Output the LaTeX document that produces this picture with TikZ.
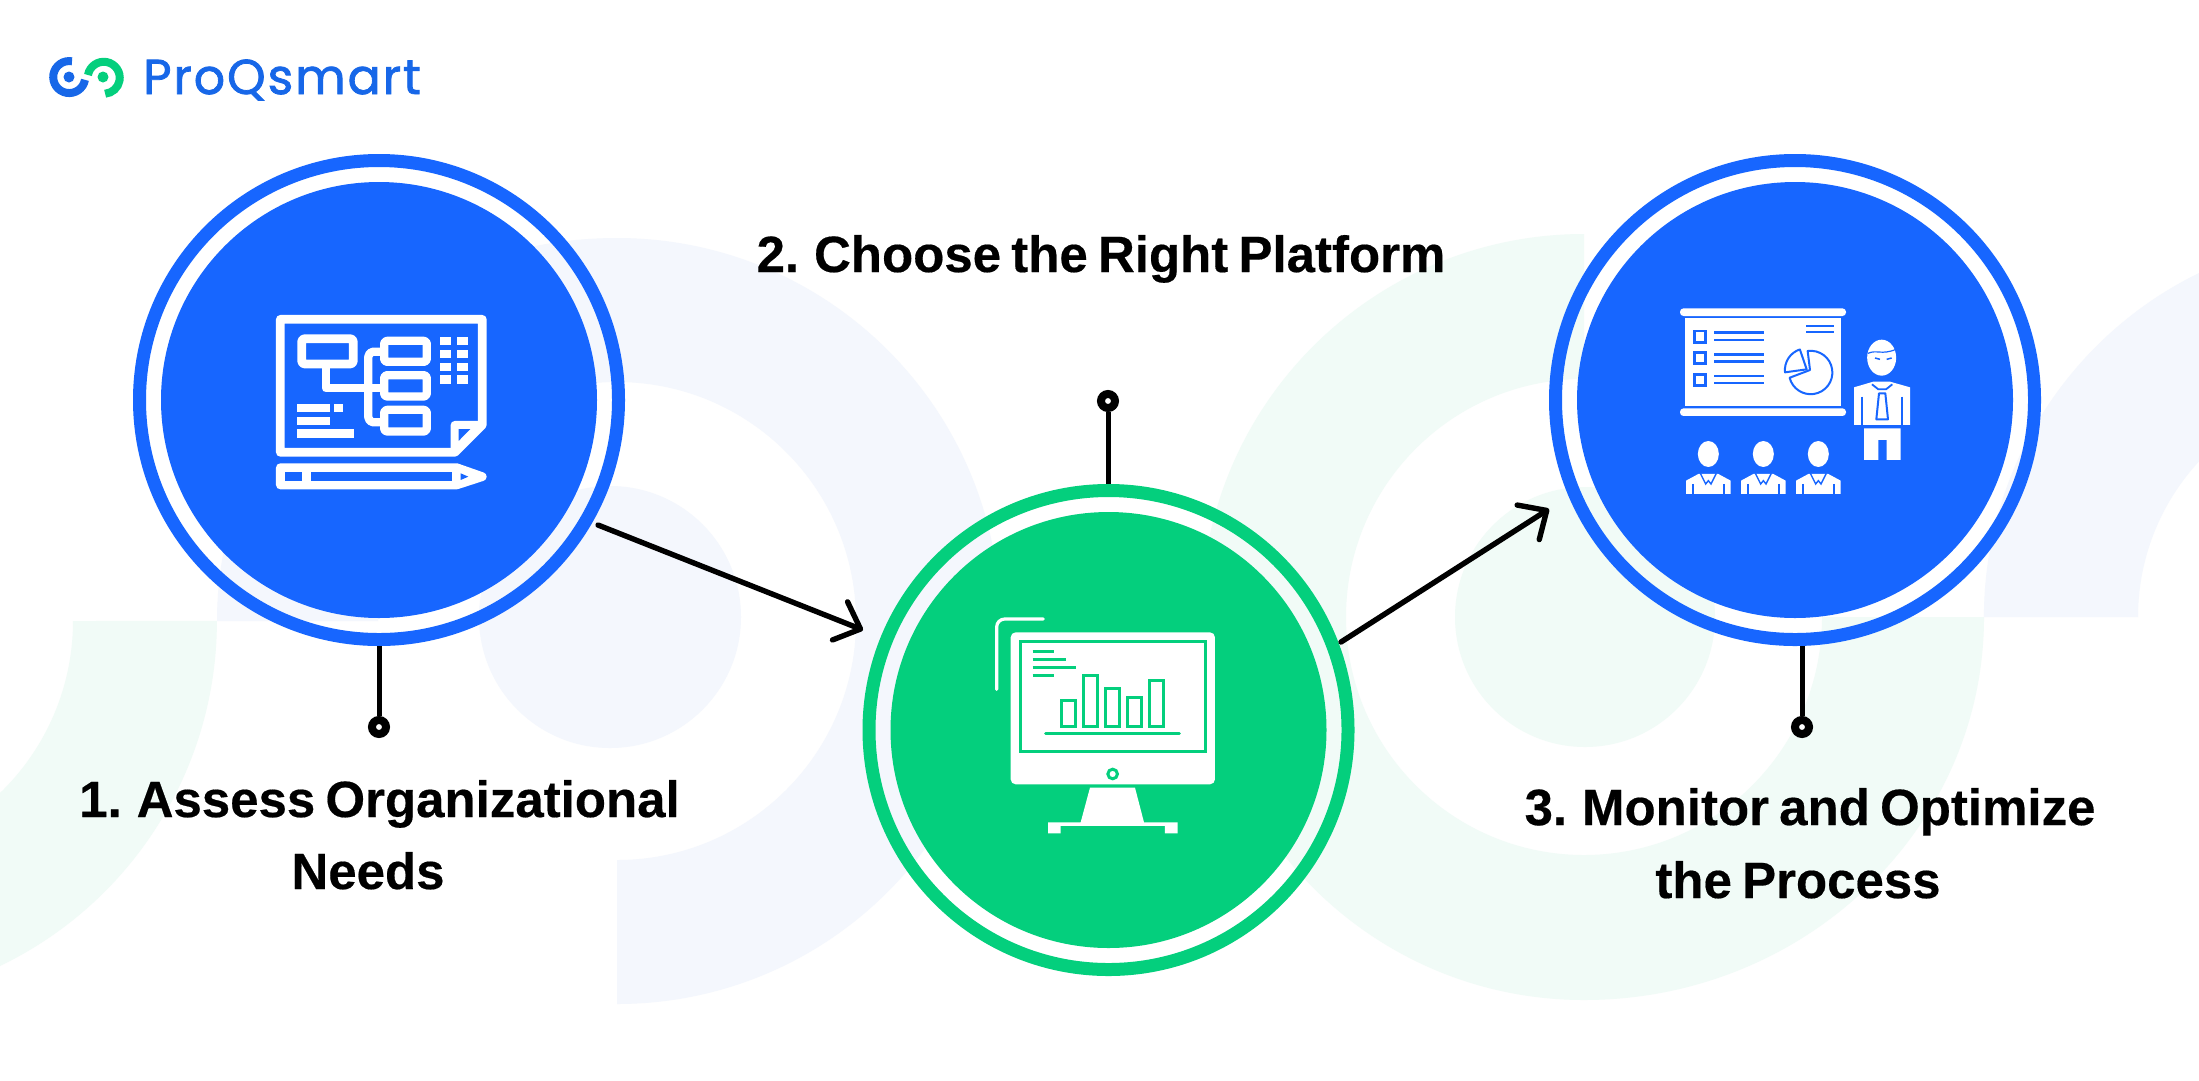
\documentclass[tikz,border=0pt]{standalone}
\usepackage{fontspec}
\usetikzlibrary{arrows.meta,shapes.geometric}
\setmainfont{Liberation Sans}[BoldFeatures={FakeBold=0.35,WordSpace=0.72}]
\newfontfamily\logofont[FakeBold=1.6,LetterSpace=4]{Poppins}
\definecolor{pqblue}{HTML}{1766FF}
\definecolor{pqgreen}{HTML}{04CF7D}
\definecolor{bgblue}{HTML}{F4F7FD}
\definecolor{bggreen}{HTML}{F1FBF7}
\definecolor{logoblue}{HTML}{1767E8}
\tikzset{
  ringnode/.style={circle,inner sep=0pt,minimum size=479pt,line width=13pt,fill=none},
  disknode/.style={circle,inner sep=0pt,minimum size=436pt,draw=none},
  dotnode/.style={circle,inner sep=0pt,minimum size=14pt,line width=8pt,draw=black,fill=white},
  stemline/.style={line width=5pt,black},
  arrowline/.style={line width=5.4pt,black,line cap=round,-{Straight Barb[length=22pt,width=41pt,line cap=round,round]}},
  steplabel/.style={anchor=base,inner sep=0pt,font=\fontsize{51}{60}\selectfont\bfseries,text=black},
  wfill/.style={fill=white,draw=none},
  wline/.style={draw=white,line join=round},
}
\begin{document}
\begin{tikzpicture}[x=1pt,y=-1pt]
\path[use as bounding box,fill=white] (0,0) rectangle (2199,1080);
% background arcs
\fill[bgblue] (617,1004) arc[start angle=-90,end angle=90,radius=383pt]
  arc[start angle=90,end angle=180,x radius=400pt,y radius=383pt]
  -- (378,621) arc[start angle=180,end angle=-90,radius=239pt] -- cycle;
\fill[bgblue] (610,617) circle[radius=131pt];
\fill[bggreen] (0,966) arc[start angle=-64.3,end angle=0,radius=383pt] -- (73,621)
  arc[start angle=0,end angle=-46,radius=239pt] -- cycle;
\fill[bggreen] (1584,234) arc[start angle=90,end angle=270,radius=383pt]
  arc[start angle=270,end angle=360,x radius=400pt,y radius=383pt]
  -- (1822,617) arc[start angle=360,end angle=90,radius=238pt] -- cycle;
\fill[bggreen] (1585,617) circle[radius=130pt];
\fill[bgblue] (2199,273) arc[start angle=116,end angle=180,radius=383pt] -- (2138,617)
  arc[start angle=180,end angle=137.2,radius=229pt] -- cycle;
% logo
\draw[logoblue,line width=8pt] (72,61.3) arc[start angle=80,end angle=350,radius=16pt];
\fill[logoblue] (69,77) circle[radius=5.5pt];
\draw[pqgreen,line width=8pt] (88,75) arc[start angle=170,end angle=-85,radius=16pt];
\fill[pqgreen] (103,77) circle[radius=5.5pt];
\node[anchor=base west,inner sep=0pt,text=logoblue,font=\fontsize{49}{52}\selectfont\logofont] (logo) at (143,94) {ProQsmart};
% circles
\node[ringnode,draw=pqblue] (c1) at (379,400) {};
\node[disknode,fill=pqblue] (k1) at (379,400) {};
\node[ringnode,draw=pqgreen] (c2) at (1108.5,730) {};
\node[disknode,fill=pqgreen] (k2) at (1108.5,730) {};
\node[ringnode,draw=pqblue] (c3) at (1795,400) {};
\node[disknode,fill=pqblue] (k3) at (1795,400) {};
% dots and stems
\node[dotnode] (d1) at (379,727) {};
\node[dotnode] (d2) at (1108,401) {};
\node[dotnode] (d3) at (1802,727) {};
\draw[stemline] (c1.south) -- (d1.north);
\draw[stemline] (d2.south) -- (d2.south |- c2.north);
\draw[stemline] (d3.north) -- (d3.north |- c3.south);
% arrows
\coordinate (a1s) at (598,525);
\coordinate (a1e) at (863,630);
\coordinate (a2s) at (1341,642);
\coordinate (a2e) at (1549,509);
\draw[arrowline] (a1s) -- (a1e);
\draw[arrowline] (a2s) -- (a2e);
% labels
\node[steplabel] (l1a) at (379.5,817) {1. Assess Organizational};
\node[steplabel] (l1b) at (368,889) {Needs};
\node[steplabel] (l2) at (1101,272) {2. Choose the Right Platform};
\node[steplabel] (l3a) at (1810,825) {3. Monitor and Optimize};
\node[steplabel] (l3b) at (1798,898) {the Process};
% icon 1
\begin{scope}[shift={(250,290)},x=0.3333pt,y=-0.3333pt]
\draw[wline,line width=8.7pt] (91,88)--(697,88)--(697,405)--(615,487)--(91,487)--cycle;
\draw[wline,line width=8pt] (614,405)--(690,405)--(614,483)--cycle;
\draw[wline,line width=8.7pt,rounded corners=3pt] (155,146) rectangle (310,222);
\draw[wline,line width=8.3pt] (228,235)--(228,295)--(400,295);
\draw[wline,line width=8.3pt,rounded corners=5pt] (400,185)--(355,185)--(355,397)--(400,397);
\foreach \ya/\yb in {140/228,243/332,347/437}{
  \draw[wline,line width=8.3pt,rounded corners=3pt] (402.5,\ya+12.5) rectangle (530.5,\yb-12.5);
}
\foreach \ya in {140,180,218,256}{
  \fill[white] (570,\ya) rectangle (602,\ya+25);
  \fill[white] (620,\ya) rectangle (653,\ya+25);
}
\fill[white] (142,342) rectangle (240,365);
\fill[white] (252,342) rectangle (279,365);
\fill[white] (142,380) rectangle (240,404);
\fill[white] (142,418) rectangle (311,443);
\draw[wline,fill=white,line width=8.7pt] (91,533)--(620,533)--(697,560)--(620,585)--(91,585)--cycle;
\fill[pqblue] (104,546) rectangle (157,572);
\fill[pqblue] (182,546) rectangle (607,572);
\fill[pqblue] (632,550)--(655,560)--(632,570)--cycle;
\end{scope}
% icon 2
\begin{scope}[shift={(960,600)},x=0.3333pt,y=-0.3333pt]
\draw[white,line width=3.2pt,line cap=round,rounded corners=8pt] (110,268)--(110,57)--(250,57);
\fill[white,rounded corners=5pt] (152,97) rectangle (765,553);
\begin{scope}[pqgreen,line width=3pt]
\draw (180,125) rectangle (737,453);
\draw (218,155)--(282,155) (218,179)--(317,179) (218,203)--(347,203) (218,227)--(282,227);
\draw (303,302) rectangle (347,378);
\draw (369,225) rectangle (413,378);
\draw (436,265) rectangle (480,378);
\draw (502,291) rectangle (546,378);
\draw (568,242) rectangle (612,378);
\draw[line cap=round] (257,401)--(658,401);
\draw (458,522) circle[radius=4.8pt];
\end{scope}
\fill[white] (390,563)--(525,563)--(552,667)--(653,667)--(653,700)--(615,700)--(615,678)--(302,678)--(302,700)--(264,700)--(264,667)--(362,667)--cycle;
\end{scope}
% icon 3
\begin{scope}[shift={(1660,290)},x=0.3333pt,y=-0.3333pt]
\fill[white,rounded corners=3.5pt] (60,55) rectangle (558,78);
\fill[white,rounded corners=3.5pt] (60,355) rectangle (558,378);
\fill[white] (76,85) rectangle (543,347);
\begin{scope}[pqblue,line width=2.9pt]
\foreach \yy in {123,187,253}{\draw (103,\yy) rectangle (137,\yy+34);}
\draw (162,128)--(313,128) (162,150)--(313,150) (162,194)--(313,194) (162,214)--(313,214) (162,258)--(313,258) (162,279)--(313,279);
\draw (438,108)--(521,108) (438,126)--(521,126);
\end{scope}
\draw[pqblue,line width=2pt,line join=round] (443,183) arc[start angle=98,end angle=-166,radius=21.7pt] -- (450,240) -- cycle;
\draw[pqblue,line width=2pt,line join=round] (375,247) arc[start angle=186,end angle=108,radius=21.7pt] -- (440,238) -- cycle;
% presenter
\fill[white] (665,203) ellipse[x radius=14.5pt,y radius=18pt];
\draw[pqblue,line width=1.2pt] (624,190) .. controls (650,178) and (665,196) .. (708,178);
\draw[pqblue,line width=1.5pt] (645,204)--(660,208) (695,204)--(680,208);
\fill[white] (582,292)--(640,275)--(690,275)--(750,292)--(750,405)--(582,405)--cycle;
\draw[pqblue,line width=2pt] (605,320)--(605,405) (727,320)--(727,405);
\draw[pqblue,line width=1.8pt] (636,283)--(655,298)--(678,298)--(697,283);
\draw[pqblue,line width=2pt,line join=round] (657,310)--(676,310)--(684,388)--(649,388)--cycle;
\fill[white] (612,415)--(722,415)--(722,510)--(680,510)--(680,450)--(655,450)--(655,510)--(612,510)--cycle;
% audience
\foreach \cx in {145,310,475}{
  \fill[white] (\cx,492) ellipse[x radius=10.5pt,y radius=13pt];
  \fill[white] (\cx-67,612)--(\cx-67,572)--(\cx-30,552)--(\cx+30,552)--(\cx+67,572)--(\cx+67,612)--cycle;
  \draw[pqblue,line width=1.7pt] (\cx-46,582)--(\cx-46,612) (\cx+46,582)--(\cx+46,612);
  \draw[pqblue,line width=1.4pt] (\cx-24,550)--(\cx-8,582)--(\cx,572)--(\cx+8,582)--(\cx+24,550);
}
\end{scope}
\end{tikzpicture}
\end{document}
